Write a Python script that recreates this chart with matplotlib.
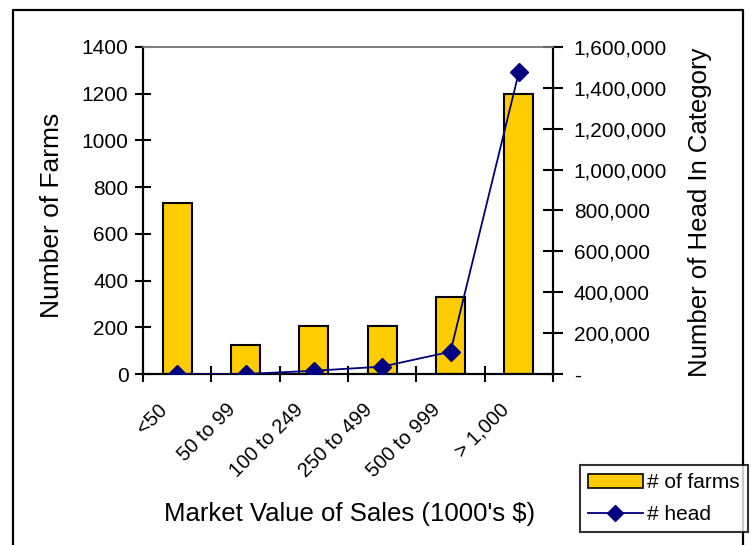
import matplotlib
matplotlib.use("Agg")
import matplotlib.pyplot as plt
import matplotlib.transforms as mtrans
from matplotlib.lines import Line2D
from matplotlib.patches import Patch
import numpy as np

plt.rcParams['font.family'] = ['Liberation Sans', 'DejaVu Sans']

categories = ["<50", "50 to 99", "100 to 249", "250 to 499", "500 to 999", "> 1,000"]
farms = [730, 125, 205, 205, 330, 1200]
head = [0, 0, 16000, 36000, 109000, 1476000]
left_ticks = [0, 200, 400, 600, 800, 1000, 1200, 1400]
right_ticks = [0, 200000, 400000, 600000, 800000, 1000000, 1200000, 1400000, 1600000]

W, H = 751, 545
fig = plt.figure(figsize=(W / 100, H / 100), dpi=100)
ax = fig.add_axes([143 / W, 1 - 374 / H, (553 - 143) / W, (374 - 47) / H])
ax2 = ax.twinx()

x = np.arange(len(categories))
ax.bar(x, farms, width=0.42, color="#FFCC00", edgecolor="black", linewidth=1.5, zorder=2)
ax.set_xlim(-0.5, len(categories) - 0.5)
ax.set_ylim(0, 1400)
ax.set_yticks(left_ticks)
ax.set_yticklabels([str(v) for v in left_ticks], fontsize=15)
ax.tick_params(axis='y', direction='inout', length=11, width=1.5, pad=5)

# x ticks at category boundaries, labels drawn separately
ax.set_xticks(np.arange(-0.5, len(categories) + 0.5, 1.0))
ax.set_xticklabels([])
ax.tick_params(axis='x', direction='inout', length=11, width=1.5)
trans = mtrans.offset_copy(ax.get_xaxis_transform(), fig=fig, x=-13, y=-33, units='dots')
for xi, lab in zip(x, categories):
    ax.text(xi, 0, lab, rotation=45, ha='right', va='center', rotation_mode='anchor',
            transform=trans, fontsize=14.5)

ax2.plot(x, head, color="#000080", linewidth=1.3, marker='D', markersize=9,
         markerfacecolor="#000080", markeredgecolor="#000080", zorder=3)
ax2.set_ylim(0, 1600000)
ax2.set_yticks(right_ticks)
ax2.set_yticklabels(['-' if v == 0 else f"{v:,}" for v in right_ticks], fontsize=15)
ax2.tick_params(axis='y', direction='inout', length=14, width=1.5, pad=8)

for a in (ax, ax2):
    a.spines['top'].set_color('#808080')
    a.spines['top'].set_linewidth(1.2)
    for s in ('left', 'right', 'bottom'):
        a.spines[s].set_linewidth(1.5)
        a.spines[s].set_color('black')

fig.text(52 / W, 1 - 215 / H, "Number of Farms", rotation=90, ha='center', va='center', fontsize=19)
fig.text(700 / W, 1 - 212 / H, "Number of Head In Category", rotation=90, ha='center', va='center', fontsize=18.5)
fig.text(350 / W, 1 - 514 / H, "Market Value of Sales (1000's $)", ha='center', va='center', fontsize=18.5)

# figure border (open at bottom)
fig.add_artist(Line2D([13 / W, 13 / W, 743 / W, 743 / W], [0, 1 - 10 / H, 1 - 10 / H, 0],
                      transform=fig.transFigure, color='black', linewidth=1.6))

handles = [Patch(facecolor="#FFCC00", edgecolor="black", linewidth=1.2),
           Line2D([0], [0], color="#000080", linewidth=1.3, marker='D', markersize=8,
                  markerfacecolor="#000080")]
leg = fig.legend(handles, ["# of farms", "# head"], loc='upper left',
                 bbox_to_anchor=(580 / W, 1 - 465 / H), fontsize=15, frameon=True,
                 fancybox=False, edgecolor='black', handlelength=2.6, handletextpad=0.2,
                 borderpad=0.4, labelspacing=0.6, borderaxespad=0)
leg.get_frame().set_linewidth(1.5)

fig.savefig("out.png", dpi=100)
